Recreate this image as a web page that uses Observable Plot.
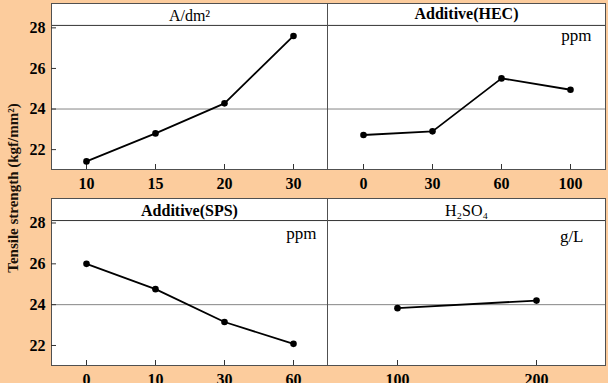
<!DOCTYPE html>
<html><head><meta charset="utf-8">
<script src="https://cdn.jsdelivr.net/npm/d3@7"></script>
<script src="https://cdn.jsdelivr.net/npm/@observablehq/plot@0.6"></script>
<style>
html,body{margin:0;padding:0;background:#fccc9d;}
#chart{position:relative;width:608px;height:383px;overflow:hidden;background:#fccc9d;font-family:"Liberation Serif","Times New Roman",serif;}
#chart svg{position:absolute;font-family:"Liberation Serif","Times New Roman",serif !important;}
#chart svg text{font-family:"Liberation Serif","Times New Roman",serif !important;}
#ylab{position:absolute;left:13px;top:188px;transform:translate(-50%,-50%) rotate(-90deg);white-space:nowrap;font-weight:bold;font-size:15px;color:#1a1209;}
</style></head><body>
<div id="chart"><div id="ylab">Tensile strength (kgf/mm²)</div></div>
<script>
// Data
const yTicks = [22, 24, 26, 28];
const currentX = ["10", "15", "20", "30"];
const currentY = [21.42, 22.80, 24.28, 27.60];
const hecX = ["0", "30", "60", "100"];
const hecY = [22.72, 22.90, 25.51, 24.95];
const spsX = ["0", "10", "30", "60"];
const spsY = [26.00, 24.76, 23.15, 22.08];
const acidX = ["100", "200"];
const acidY = [23.83, 24.20];
const titles = ["A/dm²", "Additive(HEC)", "Additive(SPS)", "H₂SO₄"];
const units = ["", "ppm", "ppm", "g/L"];

const font = '"Liberation Serif","Times New Roman",serif';
const layout = [
  {x: currentX, y: currentY, left: 0, top: 0, w: 327, ml: 51, mr: 0, showY: true, bold: false, udx: 0, udy: 0, tdy: 12},
  {x: hecX, y: hecY, left: 327, top: 0, w: 281, ml: 0, mr: 3, showY: false, bold: true, udx: -14, udy: 32, tdy: 10.5},
  {x: spsX, y: spsY, left: 0, top: 195, w: 327, ml: 51, mr: 0, showY: true, bold: true, udx: -11, udy: 35.5, tdy: 12.5},
  {x: acidX, y: acidY, left: 327, top: 195, w: 281, ml: 0, mr: 3, showY: false, bold: false, udx: -22, udy: 38, tdy: 12.5}
];
const chart = document.getElementById("chart");
layout.forEach((p, i) => {
  const data = p.x.map((x, j) => ({x, y: p.y[j]}));
  const mt = 3;
  const ph = i < 2 ? 166 : 167;
  const mb = 30;
  const svg = Plot.plot({
    width: p.w, height: mt + ph + mb,
    marginLeft: p.ml, marginRight: p.mr, marginTop: mt, marginBottom: mb,
    style: {background: "transparent", fontFamily: font, fontSize: "16px", color: "#000", overflow: "visible"},
    x: {type: "point", domain: p.x, padding: 0.5},
    y: {domain: [21.02, 29.2], axis: p.showY ? undefined : null},
    marks: [
      Plot.frame({fill: "white", stroke: null}),
      Plot.ruleY([24], {stroke: "#858585", strokeWidth: 1}),
      Plot.ruleY([28.12], {stroke: "#333", strokeWidth: 1}),
      Plot.frame({stroke: "#505050"}),
      Plot.axisX({tickSize: -5, tickPadding: 13, fontWeight: "bold", fontSize: 16, fontFamily: font, label: null, stroke: "#333"}),
      p.showY ? Plot.axisY({ticks: yTicks, tickSize: -5, tickPadding: 11, fontWeight: "bold", fontSize: 16, fontFamily: font, label: null, stroke: "#333"}) : null,
      Plot.line(data, {x: "x", y: "y", stroke: "black", strokeWidth: 1.8}),
      Plot.dot(data, {x: "x", y: "y", r: 3.3, fill: "black"}),
      Plot.text([titles[i]], {frameAnchor: "top", lineAnchor: "middle", dy: p.tdy, fontWeight: p.bold ? "bold" : "normal", fontSize: 16, fontFamily: font, fill: "black"}),
      units[i] ? Plot.text([units[i]], {frameAnchor: "top-right", textAnchor: "end", lineAnchor: "middle", dx: p.udx, dy: p.udy, fontSize: 17, fontFamily: font, fill: "black"}) : null
    ]
  });
  svg.style.left = p.left + "px";
  svg.style.top = p.top + "px";
  chart.appendChild(svg);
});
</script>
</body></html>
